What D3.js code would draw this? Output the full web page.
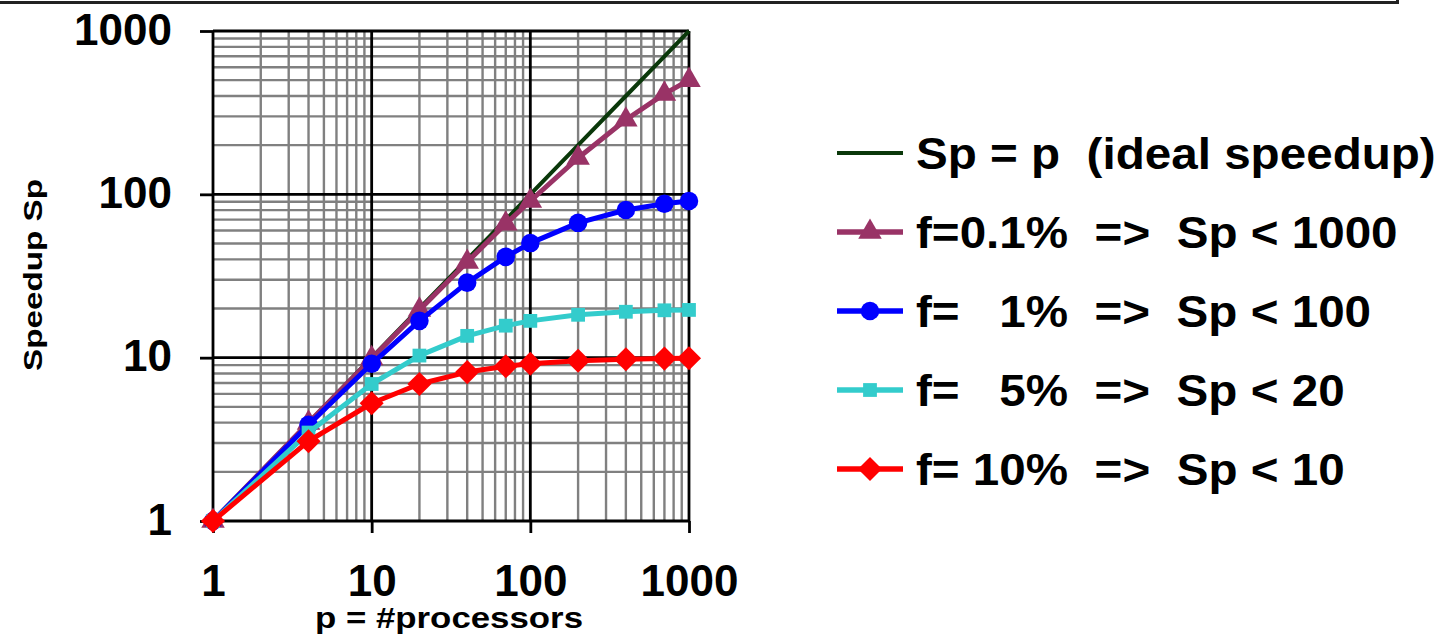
<!DOCTYPE html>
<html>
<head>
<meta charset="utf-8">
<script src="https://cdn.jsdelivr.net/npm/d3@7"></script>
<style>
  html, body { margin: 0; padding: 0; background: #fff; }
  svg { display: block; font-family: "Liberation Sans", Arial, sans-serif; font-weight: bold; }
  text { white-space: pre; }
</style>
</head>
<body>
<svg id="chart" width="1441" height="641"></svg>
<script>
// number of processors (x) and speedup read for each serial fraction f
const processors = [1, 4, 10, 20, 40, 70, 100, 200, 400, 700, 1000];
const idealSpeedup = [1, 4, 10, 20, 40, 70, 100, 200, 400, 700, 1000];
const speedupF01 = [1, 3.99, 9.9, 19.6, 38.5, 66, 91, 167, 286, 412, 500];
const speedupF1 = [1, 3.88, 9.17, 16.8, 28.8, 41.4, 50.3, 66.9, 80.2, 87.6, 91];
const speedupF5 = [1, 3.48, 6.9, 10.3, 13.6, 15.7, 16.8, 18.3, 19.1, 19.5, 19.6];
const speedupF10 = [1, 3.08, 5.26, 6.9, 8.16, 8.85, 9.17, 9.57, 9.78, 9.87, 9.91];
const majorTicks = [1, 10, 100, 1000];
const legendLabels = [
  "Sp = p  (ideal speedup)",
  "f=0.1%  =>  Sp < 1000",
  "f=   1%  =>  Sp < 100",
  "f=   5%  =>  Sp < 20",
  "f= 10%  =>  Sp < 10"
];

const series = [
  { values: idealSpeedup, color: "#0a380a", width: 4, marker: null },
  { values: speedupF01, color: "#993366", width: 5, marker: "triangle" },
  { values: speedupF1, color: "#0000ff", width: 5, marker: "circle" },
  { values: speedupF5, color: "#33cccc", width: 5, marker: "square" },
  { values: speedupF10, color: "#ff0000", width: 5, marker: "diamond" }
];

const svg = d3.select("#chart");

// Top border left over from the slide frame
svg.append("path")
  .attr("d", "M0,2.5H1397.5V0")
  .attr("fill", "none")
  .attr("stroke", "#222")
  .attr("stroke-width", 3);

const xScale = d3.scaleLog().domain([1, 1000]).range([213, 689]);
const yScale = d3.scaleLog().domain([1, 1000]).range([521, 31]);

// minor grid values 2..9 in each decade
const minorTicks = [];
[1, 10, 100].forEach(dec => {
  for (let k = 2; k <= 9; k++) minorTicks.push(dec * k);
});

const grid = svg.append("g");
grid.selectAll(".vminor").data(minorTicks).join("line")
  .attr("class", "vminor")
  .attr("x1", d => xScale(d)).attr("x2", d => xScale(d))
  .attr("y1", yScale(1)).attr("y2", yScale(1000))
  .attr("stroke", "#808080").attr("stroke-width", 2.4);
grid.selectAll(".hminor").data(minorTicks).join("line")
  .attr("class", "hminor")
  .attr("y1", d => yScale(d)).attr("y2", d => yScale(d))
  .attr("x1", xScale(1)).attr("x2", xScale(1000))
  .attr("stroke", "#808080").attr("stroke-width", 2.4);
grid.selectAll(".vmajor").data(majorTicks).join("line")
  .attr("class", "vmajor")
  .attr("x1", d => xScale(d)).attr("x2", d => xScale(d))
  .attr("y1", yScale(1)).attr("y2", yScale(1000))
  .attr("stroke", "#000").attr("stroke-width", 2.8);
grid.selectAll(".hmajor").data(majorTicks).join("line")
  .attr("class", "hmajor")
  .attr("y1", d => yScale(d)).attr("y2", d => yScale(d))
  .attr("x1", xScale(1)).attr("x2", xScale(1000))
  .attr("stroke", "#000").attr("stroke-width", 2.8);

// axes
const xAxis = svg.append("g")
  .attr("transform", `translate(0, ${yScale(1)})`)
  .call(d3.axisBottom(xScale).tickValues(majorTicks).tickFormat(d3.format("d")).tickSize(12).tickPadding(32));
const yAxis = svg.append("g")
  .attr("transform", `translate(${xScale(1)}, 0)`)
  .call(d3.axisLeft(yScale).tickValues(majorTicks).tickFormat(d3.format("d")).tickSize(13).tickPadding(28));

[xAxis, yAxis].forEach(ax => {
  ax.select(".domain").remove();
  ax.selectAll(".tick line").attr("stroke", "#000").attr("stroke-width", 2.8);
  ax.selectAll(".tick text")
    .attr("fill", "#000")
    .style("font-family", '"Liberation Sans", Arial, sans-serif')
    .style("font-weight", "bold")
    .style("font-size", "44px");
});
xAxis.selectAll(".tick text").attr("dy", "0.71em");
yAxis.selectAll(".tick text").attr("dy", "0.3em");

// series lines and markers
const symbolFor = {
  triangle: d3.symbol().type(d3.symbolTriangle).size(240),
  circle: d3.symbol().type(d3.symbolCircle).size(270),
  square: d3.symbol().type(d3.symbolSquare).size(190),
  diamond: d3.symbol().type(d3.symbolSquare).size(290)
};

const line = d3.line()
  .x((d, i) => xScale(processors[i]))
  .y(d => yScale(d));

series.forEach(s => {
  const g = svg.append("g");
  g.append("path")
    .datum(s.values)
    .attr("d", line)
    .attr("fill", "none")
    .attr("stroke", s.color)
    .attr("stroke-width", s.width)
    .attr("stroke-linejoin", "round");
  if (s.marker) {
    g.selectAll("path.mk").data(s.values).join("path")
      .attr("class", "mk")
      .attr("d", symbolFor[s.marker])
      .attr("transform", (d, i) => `translate(${xScale(processors[i])},${yScale(d)})` + (s.marker === "diamond" ? " rotate(45)" : ""))
      .attr("fill", s.color);
  }
});

// axis titles
svg.append("text")
  .attr("transform", "translate(42, 275) rotate(-90)")
  .attr("text-anchor", "middle")
  .attr("textLength", 192)
  .attr("lengthAdjust", "spacingAndGlyphs")
  .style("font-size", "26px")
  .text("Speedup Sp");

svg.append("text")
  .attr("x", 449).attr("y", 628)
  .attr("text-anchor", "middle")
  .attr("textLength", 268)
  .attr("lengthAdjust", "spacingAndGlyphs")
  .style("font-size", "29px")
  .text("p = #processors");

// legend
const legend = svg.append("g");
series.forEach((s, i) => {
  const row = legend.append("g").attr("transform", `translate(837, ${153 + i * 79})`);
  row.append("line")
    .attr("x1", 0).attr("x2", 66)
    .attr("stroke", s.color)
    .attr("stroke-width", i === 0 ? 4 : 5.5);
  if (s.marker) {
    row.append("path")
      .attr("d", symbolFor[s.marker])
      .attr("transform", "translate(33,0)" + (s.marker === "diamond" ? " rotate(45)" : ""))
      .attr("fill", s.color);
  }
  row.append("text")
    .attr("transform", "translate(79, 16) scale(1.058, 1)")
    .style("font-size", "45px")
    .attr("fill", "#000")
    .text(legendLabels[i]);
});
</script>
</body>
</html>
